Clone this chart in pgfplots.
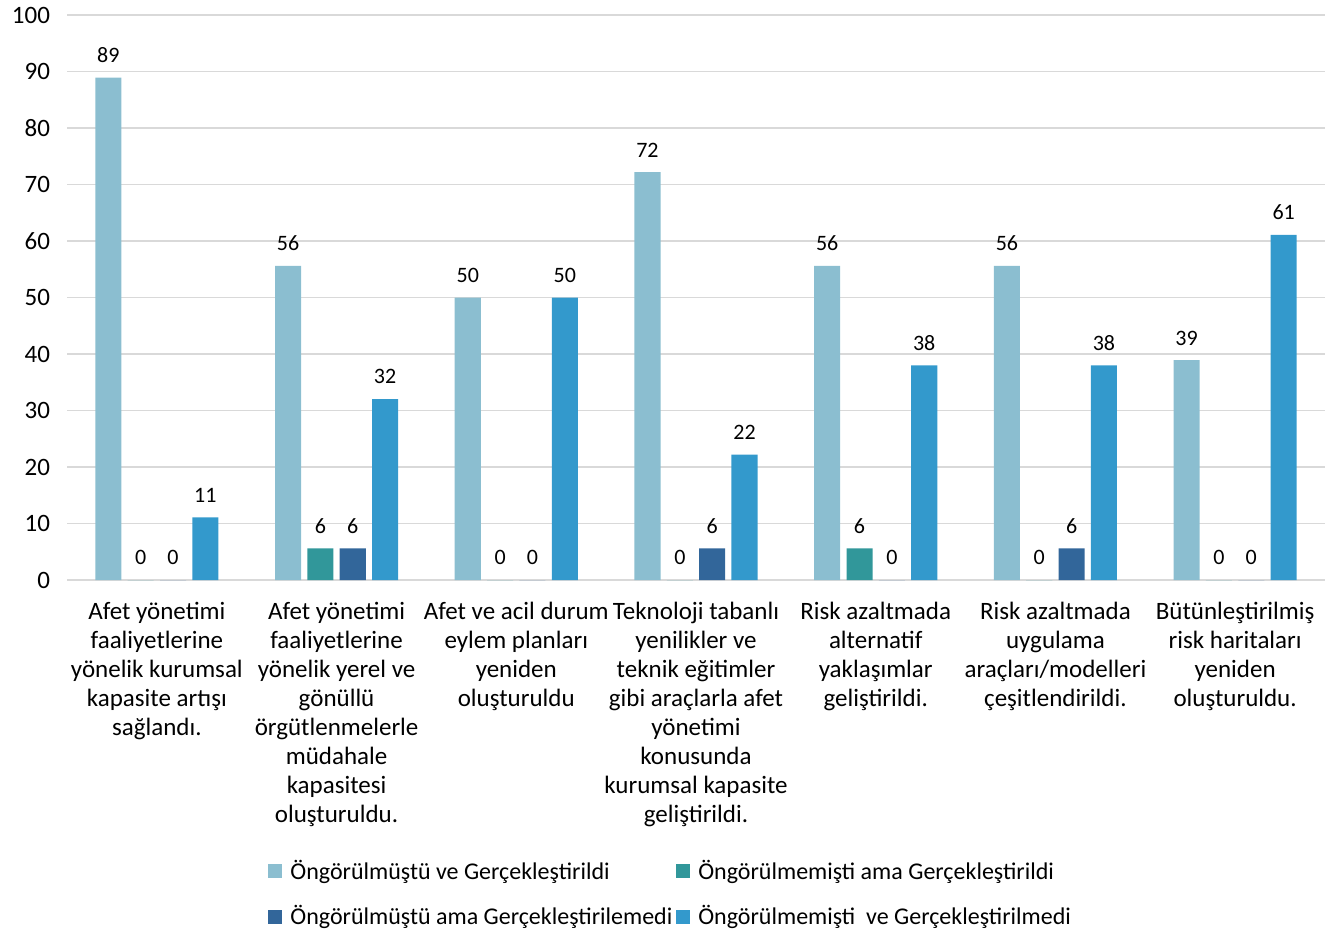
\documentclass[border=0pt]{standalone}
\usepackage{pgfplots}
\pgfplotsset{compat=1.18}
\usepackage{fontspec}
\setmainfont{Carlito}
\definecolor{cA}{HTML}{8BBED0}
\definecolor{cB}{HTML}{31979A}
\definecolor{cC}{HTML}{32669A}
\definecolor{cD}{HTML}{3399CC}
\definecolor{gridc}{HTML}{D9D9D9}
\begin{document}
\begin{tikzpicture}
\path[use as bounding box] (-33.5pt,-176pt) rectangle (630.5pt,290pt);
\begin{axis}[
  scale only axis,
  width=629pt, height=282.5pt,
  xmin=-0.5, xmax=6.5,
  ymin=0, ymax=100,
  ytick={0,10,...,100},
  xtick={0,1,2,3,4,5,6},
  xticklabels={
    {Afet yönetimi\\faaliyetlerine\\yönelik kurumsal\\kapasite artışı\\sağlandı.},
    {Afet yönetimi\\faaliyetlerine\\yönelik yerel ve\\gönüllü\\örgütlenmelerle\\müdahale\\kapasitesi\\oluşturuldu.},
    {Afet ve acil durum\\eylem planları\\yeniden\\oluşturuldu},
    {Teknoloji tabanlı\\yenilikler ve\\teknik eğitimler\\gibi araçlarla afet\\yönetimi\\konusunda\\kurumsal kapasite\\geliştirildi.},
    {Risk azaltmada\\alternatif\\yaklaşımlar\\geliştirildi.},
    {Risk azaltmada\\uygulama\\araçları/modelleri\\çeşitlendirildi.},
    {Bütünleştirilmiş\\risk haritaları\\yeniden\\oluşturuldu.}},
  xticklabel style={align=center, font=\fontsize{12.5}{14.5}\selectfont, yshift=-7.5pt},
  yticklabel style={font=\fontsize{12.5}{14.5}\selectfont, xshift=-5pt},
  /pgf/number format/assume math mode=true,
  axis line style={draw=none},
  major tick length=0pt,
  ymajorgrids,
  grid style={gridc, line width=0.8pt},
  ybar,
  bar width=0.145,
  nodes near coords,
  nodes near coords style={font=\fontsize{11}{13}\selectfont, black, yshift=4pt, /pgf/number format/fixed, /pgf/number format/precision=0},
  legend columns=2,
  legend style={draw=none, at={(0.155,-0.481)}, anchor=north west,
    font=\fontsize{12}{14}\selectfont, row sep=7.5pt,
    /tikz/every odd column/.append style={column sep=2pt}},
  legend cell align=left,
  legend image code/.code={\fill[#1] (1.5pt,-3.5pt) rectangle (8.5pt,3.5pt);},
]
\addplot[fill=cA, draw=none, bar shift=-0.27] coordinates {(0,88.9) (1,55.6) (2,50) (3,72.2) (4,55.6) (5,55.6) (6,38.9)};
\addplot[fill=cB, draw=none, bar shift=-0.09] coordinates {(0,0) (1,5.6) (2,0) (3,0) (4,5.6) (5,0) (6,0)};
\addplot[fill=cC, draw=none, bar shift=0.09] coordinates {(0,0) (1,5.6) (2,0) (3,5.6) (4,0) (5,5.6) (6,0)};
\addplot[fill=cD, draw=none, bar shift=0.27] coordinates {(0,11.1) (1,32) (2,50) (3,22.2) (4,38) (5,38) (6,61.1)};
\legend{Öngörülmüştü ve Gerçekleştirildi, Öngörülmemişti ama Gerçekleştirildi, Öngörülmüştü ama Gerçekleştirilemedi, Öngörülmemişti\ \ ve Gerçekleştirilmedi}
\end{axis}
\end{tikzpicture}
\end{document}
